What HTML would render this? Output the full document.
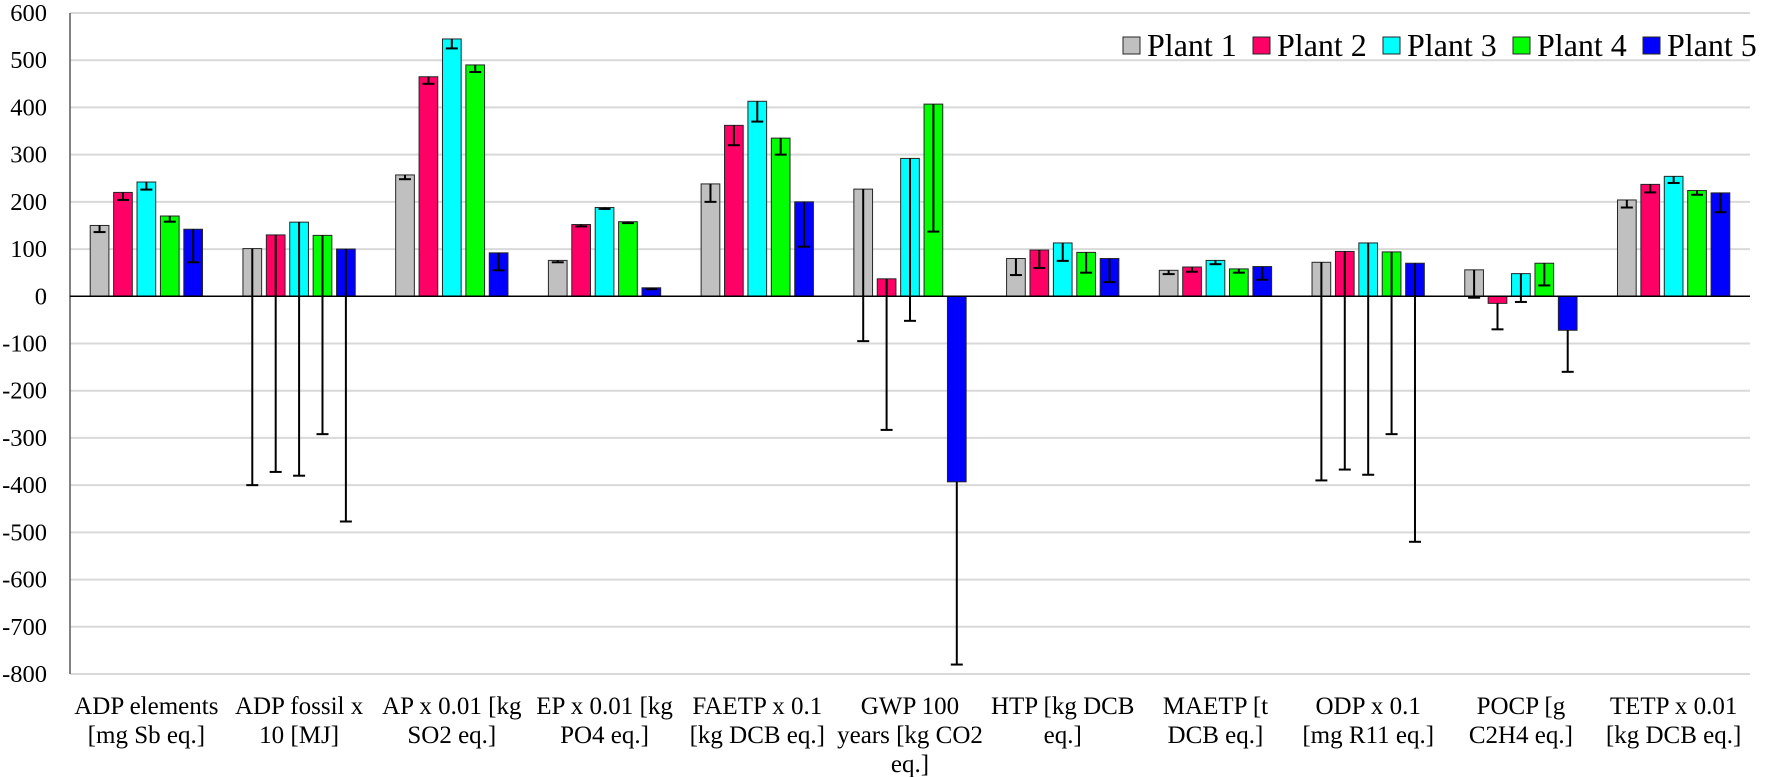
<!DOCTYPE html>
<html><head><meta charset="utf-8"><style>
html,body{margin:0;padding:0;background:#fff;}
svg{display:block;font-family:"Liberation Serif",serif;}
</style></head><body>
<svg id="chart" width="1772" height="777" viewBox="0 0 1772 777" xmlns="http://www.w3.org/2000/svg">
<g id="grid"></g>
<g id="yticks"></g>
<g id="bars"></g>
<g id="xlabels"></g>
<g id="legend"></g>
</svg>
<script>
const categories = [
 ["ADP elements","[mg Sb eq.]"],["ADP fossil x","10 [MJ]"],["AP x 0.01 [kg","SO2 eq.]"],
 ["EP x 0.01 [kg","PO4 eq.]"],["FAETP x 0.1","[kg DCB eq.]"],["GWP 100","years [kg CO2","eq.]"],
 ["HTP [kg DCB","eq.]"],["MAETP [t","DCB eq.]"],["ODP x 0.1","[mg R11 eq.]"],["POCP [g","C2H4 eq.]"],
 ["TETP x 0.01","[kg DCB eq.]"]];
const seriesNames = ["Plant 1","Plant 2","Plant 3","Plant 4","Plant 5"];
const seriesColors = ["#c0c0c0","#ff0066","#00ffff","#00ff00","#0000ff"];
const plant1 = [150,101,257,76,238,227,80,55,72,56,204];
const plant2 = [220,130,465,152,362,37,98,62,95,-15,237];
const plant3 = [242,157,545,188,413,292,113,76,113,48,254];
const plant4 = [170,129,490,158,335,407,93,58,94,70,224];
const plant5 = [142,100,92,18,200,-393,80,63,70,-72,219];
const low1 = [136,-400,248,72,200,-95,45,47,-390,-3,188];
const low2 = [204,-372,450,148,320,-283,60,52,-367,-70,220];
const low3 = [226,-380,525,185,370,-52,75,68,-378,-12,240];
const low4 = [158,-292,475,155,300,137,50,50,-292,23,215];
const low5 = [72,-477,55,15,105,-780,30,35,-520,-160,178];
const yTicks = [600,500,400,300,200,100,0,-100,-200,-300,-400,-500,-600,-700,-800];

const values=[plant1,plant2,plant3,plant4,plant5];
const lows=[low1,low2,low3,low4,low5];
const NS="http://www.w3.org/2000/svg";
const X0=70,X1=1750,Ytop=13,Ybot=674,VMAX=600,VMIN=-800;
const y=v=>Ytop+(VMAX-v)*(Ybot-Ytop)/(VMAX-VMIN);
const catW=(X1-X0)/categories.length;
const xc=i=>X0+catW*(i+0.5);
const pitch=23.4,bw=18.7;
const barX=(i,s)=>xc(i)-2.5*pitch+s*pitch+(pitch-bw)/2;
function mk(tag,attrs,parent){const e=document.createElementNS(NS,tag);for(const k in attrs)e.setAttribute(k,attrs[k]);parent.appendChild(e);return e;}
const grid=document.getElementById('grid'),yt=document.getElementById('yticks'),bars=document.getElementById('bars'),xl=document.getElementById('xlabels'),lg=document.getElementById('legend');
yTicks.forEach(t=>{
 if(t!==0){const l=mk('line',{x1:X0,x2:X1,y1:y(t),y2:y(t),stroke:'#d9d9d9','stroke-width':2},grid);
 
 }
 const tx=mk('text',{x:47,y:y(t)+8,'text-anchor':'end','font-size':24.5,fill:'#000'},yt);
 tx.textContent=t;
 
 
});
const ax=mk('line',{x1:X0,x2:X0,y1:Ytop,y2:Ybot,stroke:'#595959','stroke-width':1.5},grid);


values.forEach((arr,s)=>{
 arr.forEach((v,i)=>{
  const x=barX(i,s);
  const r=mk('rect',{x:x,y:Math.min(y(v),y(0)),width:bw,height:Math.abs(y(v)-y(0)),fill:seriesColors[s],stroke:'#262626','stroke-width':1},bars);
  
  
 });
});
const zl=mk('line',{x1:X0,x2:X1,y1:y(0),y2:y(0),stroke:'#000','stroke-width':1.5},bars);


lows.forEach((arr,s)=>{
 arr.forEach((lo,i)=>{
  const cx=barX(i,s)+bw/2,v=values[s][i];
  const g=mk('g',{stroke:'#000','stroke-width':2},bars);
  
  
  mk('line',{x1:cx,x2:cx,y1:y(v),y2:y(lo)},g);
  mk('line',{x1:cx-6,x2:cx+6,y1:y(lo),y2:y(lo)},g);
 });
});
categories.forEach((lines,i)=>{
 const t=mk('text',{x:xc(i),'text-anchor':'middle','font-size':25,fill:'#000'},xl);
 
 
 lines.forEach((ln,j)=>{const ts=mk('tspan',{x:xc(i),y:714+j*29},t);ts.textContent=ln;});
});
const legX=[1123,1253,1383,1513,1643];
seriesNames.forEach((n,s)=>{
 const g=mk('g',{},lg);
 
 
 mk('rect',{x:legX[s],y:37,width:17,height:17,fill:seriesColors[s],stroke:'#262626','stroke-width':1},g);
 const t=mk('text',{x:legX[s]+24,y:56,'font-size':32,fill:'#000'},g);
 t.textContent=n;
});
</script>
</body></html>
